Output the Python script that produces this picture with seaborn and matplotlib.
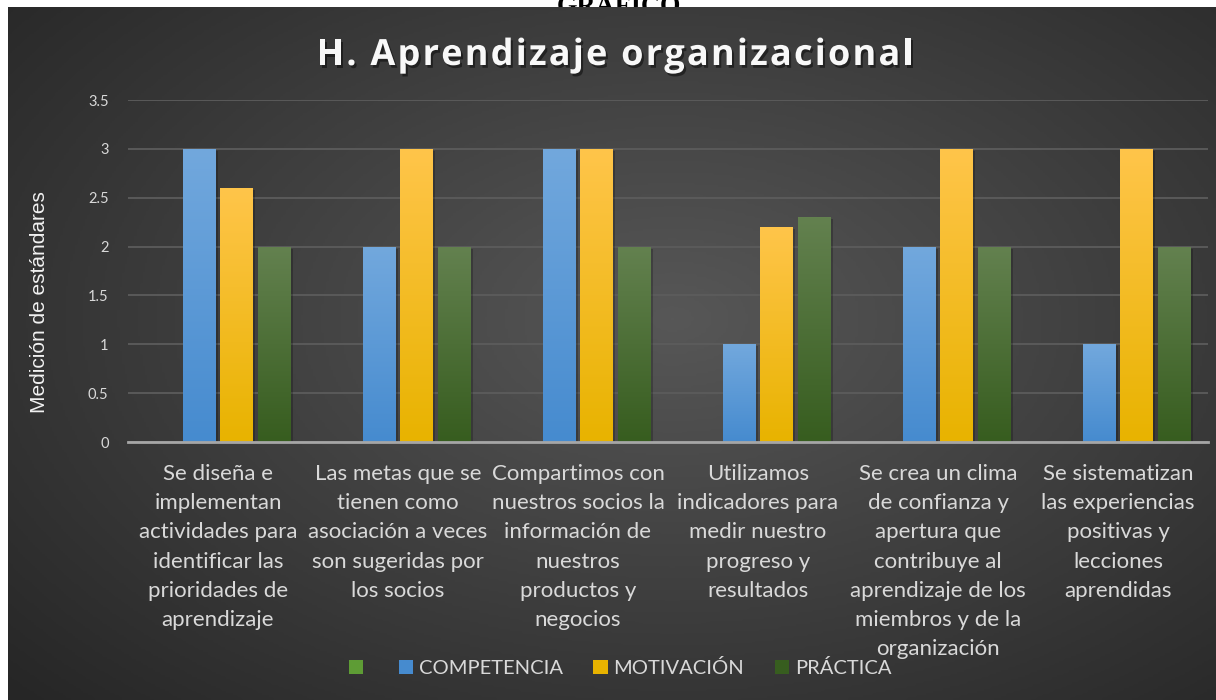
import numpy as np
import pandas as pd
import matplotlib
matplotlib.use('Agg')
import matplotlib.pyplot as plt
import seaborn as sns
import matplotlib.patheffects as pe
from matplotlib.colors import LinearSegmentedColormap, to_rgba
from matplotlib.patches import Rectangle
from matplotlib.font_manager import FontProperties, findfont, get_font

# Data
categorias = [
    'Se diseña e\nimplementan\nactividades para\nidentificar las\nprioridades de\naprendizaje',
    'Las metas que se\ntienen como\nasociación a veces\nson sugeridas por\nlos socios',
    'Compartimos con\nnuestros socios la\ninformación de\nnuestros\nproductos y\nnegocios',
    'Utilizamos\nindicadores para\nmedir nuestro\nprogreso y\nresultados',
    'Se crea un clima\nde confianza y\napertura que\ncontribuye al\naprendizaje de los\nmiembros y de la\norganización',
    'Se sistematizan\nlas experiencias\npositivas y\nlecciones\naprendidas',
]
series = ['', 'COMPETENCIA', 'MOTIVACIÓN', 'PRÁCTICA']
vacia = [np.nan] * 6          # empty first series (no values in the chart)
competencia = [3, 2, 3, 1, 2, 1]
motivacion = [2.6, 3, 3, 2.2, 3, 3]
practica = [2, 2, 2, 2.3, 2, 2]
yticks = [0, 0.5, 1, 1.5, 2, 2.5, 3, 3.5]

df = pd.DataFrame({
    'categoria': categorias * 4,
    'serie': [s for s in series for _ in categorias],
    'valor': vacia + competencia + motivacion + practica,
})

# colour gradients (top, bottom) per series
grad = {
    '': ('#7dbb52', '#5e9c35'),
    'COMPETENCIA': ('#72a8dd', '#468bcf'),
    'MOTIVACIÓN': ('#ffc54a', '#e8b300'),
    'PRÁCTICA': ('#63814f', '#375d1f'),
}
solid = {k: v[1] for k, v in grad.items()}

W, H = 1216, 700
fig = plt.figure(figsize=(W / 100, H / 100), dpi=100, facecolor='white')

# dark radial background
bg = fig.add_axes([8 / W, 0, 1 - 8 / W, 1 - 7 / H], zorder=-5)
yy, xx = np.mgrid[0:1:300j, 0:1:500j]
r = np.sqrt(((xx - 0.55) / 0.75) ** 2 + ((yy - 0.45) / 0.8) ** 2)
r = np.clip(r, 0, 1)
bgcmap = LinearSegmentedColormap.from_list('bg', ['#575757', '#262626'])
bg.imshow(r, cmap=bgcmap, aspect='auto', extent=[0, 1, 0, 1], vmin=0, vmax=1)
bg.set_axis_off()

# page heading hidden behind the chart, only a sliver shows
fig.text(619 / W, 1 - 13 / H, 'GRÁFICO', ha='center', va='baseline', fontsize=19,
         fontweight='bold', family='Liberation Serif', color='black', zorder=-10)

ax = fig.add_axes([128 / W, 1 - 442 / H, 1080 / W, 342 / H])
ax.set_facecolor('none')
sns.barplot(data=df, x='categoria', y='valor', hue='serie', hue_order=series,
            order=categorias, palette=solid, width=0.833, gap=0.12, saturation=1,
            linewidth=0, errorbar=None, legend=False, ax=ax)

ax.set_ylim(0, 3.5)
ax.set_xlim(-0.5, 5.5)
ax.set_yticks(yticks)
ax.set_yticklabels([f'{t:g}' for t in yticks], family='Lato', fontsize=10.5, color='#d9d9d9')
ax.tick_params(axis='y', length=0, pad=14)
ax.tick_params(axis='x', length=0, pad=16)
ax.set_xticks(range(len(categorias)))
ax.set_xticklabels(categorias, family='Lato', fontsize=16, color='#d9d9d9', linespacing=1.57)
ax.grid(axis='y', color='#5c5c5c', linewidth=1.3, zorder=0)
ax.set_axisbelow(True)
for s in ['top', 'right', 'left']:
    ax.spines[s].set_visible(False)
ax.spines['bottom'].set_color('#a6a6a6')
ax.spines['bottom'].set_linewidth(2)
ax.set_xlabel('')
ax.set_ylabel('')


def nearest_series(fc):
    d = {k: np.sum((np.array(to_rgba(v)) - np.array(fc)) ** 2) for k, v in solid.items()}
    return min(d, key=d.get)


# gradient fill + soft shadow on every bar
for patch in list(ax.patches):
    hgt = patch.get_height()
    if not np.isfinite(hgt) or hgt <= 0:
        continue
    x0, w = patch.get_x(), patch.get_width()
    top, bot = grad[nearest_series(patch.get_facecolor())]
    cm = LinearSegmentedColormap.from_list('g', [bot, top])
    sh = Rectangle((x0 + 0.012, 0), w, hgt - 0.02, facecolor='black', alpha=0.22,
                   linewidth=0, zorder=1.5)
    ax.add_patch(sh)
    im = ax.imshow(np.linspace(0, 1, 100).reshape(-1, 1)[::-1], cmap=cm, aspect='auto',
                   extent=[x0, x0 + w, 0, hgt], zorder=2)
    im.set_clip_path(patch)
    patch.set_zorder(1.9)
ax.set_xlim(-0.5, 5.5)
ax.set_ylim(0, 3.5)

fig.text(40 / W, 1 - 302 / H, 'Medición de estándares', rotation=90, ha='center', va='center',
         family='Liberation Sans', fontsize=15, color='#f2f2f2')

# title with letter spacing, placed glyph by glyph
titulo = 'H. Aprendizaje organizacional'
tsize, tspace = 26, 2.2
tprop = FontProperties(family='Open Sans', weight='bold', size=tsize)
font = get_font(findfont(tprop))
font.set_size(tsize, 100)
adv = [font.load_char(ord(c)).linearHoriAdvance / 65536 for c in titulo]
total = sum(adv) + tspace * (len(titulo) - 1)
xpos = 615 - total / 2
for c, a in zip(titulo, adv):
    if c != ' ':
        fig.text(xpos / W, 1 - 56 / H, c, ha='left', va='center', fontproperties=tprop,
                 color='#f8f8f8',
                 path_effects=[pe.SimplePatchShadow(offset=(1.5, -2), shadow_rgbFace='black',
                                                    alpha=0.45), pe.Normal()])
    xpos += a + tspace

handles = [Rectangle((0, 0), 1, 1, facecolor=grad[s][1], edgecolor='none') for s in series]
fig.legend(handles, series, loc='center', bbox_to_anchor=(620 / W, 1 - 668 / H), ncol=4,
           frameon=False, handlelength=0.7, handleheight=0.7, handletextpad=0.3,
           columnspacing=1.5, prop={'family': 'Lato', 'size': 14.5}, labelcolor='#d9d9d9')

fig.savefig('out.png', dpi=100, facecolor='white')
